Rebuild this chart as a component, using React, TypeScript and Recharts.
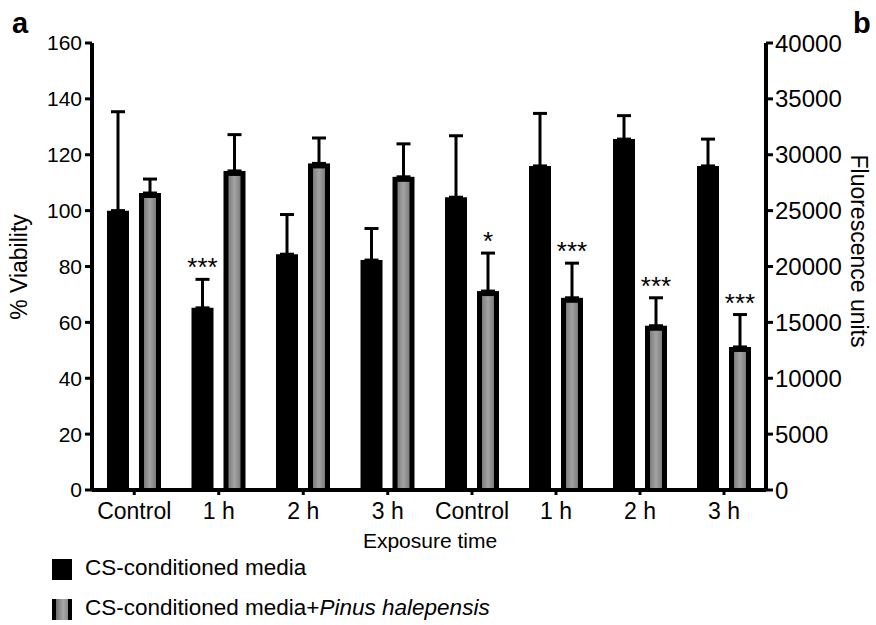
import React from "react";
import { BarChart, Bar, XAxis, YAxis, ErrorBar, LabelList } from "recharts";

const categories = ["Control", "1 h", "2 h", "3 h"];

// panel a: % viability
const viabilityCS = [100, 65.2, 84.4, 82.3];
const viabilityCSErr = [35.4, 10.2, 14.2, 11.3];
const viabilityPH = [106.3, 114.2, 116.9, 112.1];
const viabilityPHErr = [5, 13, 9.1, 11.8];
const viabilityCSSig = ["", "***", "", ""];
const viabilityPHSig = ["", "", "", ""];
const viabilityTicks = [0, 20, 40, 60, 80, 100, 120, 140, 160];

// panel b: fluorescence units
const fluorCS = [26200, 29000, 31400, 29000];
const fluorCSErr = [5500, 4700, 2100, 2400];
const fluorPH = [17800, 17200, 14700, 12800];
const fluorPHErr = [3400, 3100, 2500, 2900];
const fluorCSSig = ["", "", "", ""];
const fluorPHSig = ["*", "***", "***", "***"];
const fluorTicks = [0, 5000, 10000, 15000, 20000, 25000, 30000, 35000, 40000];

const FONT = "'Liberation Sans', Arial, sans-serif";

const buildRows = (cs, csErr, ph, phErr, csSig, phSig) =>
  categories.map((cat, i) => ({
    cat,
    cs: cs[i],
    csErr: [0, csErr[i]],
    ph: ph[i],
    phErr: [0, phErr[i]],
    csSig: csSig[i],
    phSig: phSig[i],
  }));

const rowsA = buildRows(viabilityCS, viabilityCSErr, viabilityPH, viabilityPHErr, viabilityCSSig, viabilityPHSig);
const rowsB = buildRows(fluorCS, fluorCSErr, fluorPH, fluorPHErr, fluorCSSig, fluorPHSig);

// gray bar with a thick black border
const makeGrayBar = (gradId) => (props) => {
  const { x, y, width, height } = props;
  if (!height || height <= 0) return null;
  const b = 5;
  return (
    <g>
      <rect x={x} y={y} width={width} height={height} fill="#000" />
      <rect x={x + b} y={y + b} width={width - 2 * b} height={height - b} fill={`url(#${gradId})`} />
    </g>
  );
};

// asterisks sit just above the error bar cap
const makeSig = (rows, valKey, errKey) => (props) => {
  const { x, y, width, height, index, value } = props;
  if (!value) return null;
  const r = rows[index];
  const top = y - (r[errKey][1] / r[valKey]) * height;
  return (
    <text x={x + width / 2} y={top - 3} textAnchor="middle" fontSize={26} fontFamily={FONT} fill="#000">
      {value}
    </text>
  );
};

const grad = (id) => (
  <defs>
    <linearGradient id={id} x1="0" y1="0" x2="1" y2="0">
      <stop offset="0%" stopColor="#7d7d7d" />
      <stop offset="50%" stopColor="#a3a3a3" />
      <stop offset="100%" stopColor="#7d7d7d" />
    </linearGradient>
  </defs>
);

const xAxisProps = {
  dataKey: "cat",
  height: 50,
  interval: 0,
  tickSize: 5,
  tickMargin: 8,
  tick: { fill: "#000", fontSize: 23, fontFamily: FONT },
  tickLine: { stroke: "#000", strokeWidth: 3 },
  axisLine: { stroke: "#000", strokeWidth: 4 },
};

export default function App() {
  return (
    <div style={{ position: "absolute", left: 0, top: 0, width: 876, height: 625, background: "#fff" }}>
      <div style={{ position: "absolute", left: 0, top: 0 }}>
        <BarChart
          width={430}
          height={540}
          data={rowsA}
          margin={{ top: 43, right: 0, bottom: 0, left: 0 }}
          barSize={22}
          barGap={10}
        >
          {grad("grayA")}
          <XAxis {...xAxisProps} />
          <YAxis
            width={92}
            domain={[0, 160]}
            ticks={viabilityTicks}
            allowDataOverflow
            tickSize={7}
            tickMargin={3}
            tick={{ fill: "#000", fontSize: 21, fontFamily: FONT }}
            tickLine={{ stroke: "#000", strokeWidth: 3 }}
            axisLine={{ stroke: "#000", strokeWidth: 4 }}
          />
          <Bar dataKey="cs" fill="#000" isAnimationActive={false}>
            <ErrorBar dataKey="csErr" width={7} strokeWidth={3} stroke="#000" direction="y" isAnimationActive={false} />
            <LabelList dataKey="csSig" content={makeSig(rowsA, "cs", "csErr")} />
          </Bar>
          <Bar dataKey="ph" fill="#888" shape={makeGrayBar("grayA")} isAnimationActive={false}>
            <ErrorBar dataKey="phErr" width={7} strokeWidth={3} stroke="#000" direction="y" isAnimationActive={false} />
            <LabelList dataKey="phSig" content={makeSig(rowsA, "ph", "phErr")} />
          </Bar>
        </BarChart>
      </div>
      <div style={{ position: "absolute", left: 430, top: 0 }}>
        <BarChart
          width={446}
          height={540}
          data={rowsB}
          margin={{ top: 43, right: 0, bottom: 0, left: 0 }}
          barSize={22}
          barGap={10}
        >
          {grad("grayB")}
          <XAxis {...xAxisProps} />
          <YAxis
            yAxisId="divider"
            orientation="left"
            width={0}
            domain={[0, 40000]}
            tick={false}
            tickLine={false}
            axisLine={{ stroke: "#8a8a8a", strokeWidth: 1.5, strokeDasharray: "1 1" }}
          />
          <YAxis
            yAxisId="fl"
            orientation="right"
            width={110}
            domain={[0, 40000]}
            ticks={fluorTicks}
            allowDataOverflow
            tickSize={7}
            tickMargin={2}
            tick={{ fill: "#000", fontSize: 24, fontFamily: FONT }}
            tickLine={{ stroke: "#000", strokeWidth: 3 }}
            axisLine={{ stroke: "#000", strokeWidth: 4 }}
          />
          <Bar yAxisId="fl" dataKey="cs" fill="#000" isAnimationActive={false}>
            <ErrorBar dataKey="csErr" width={7} strokeWidth={3} stroke="#000" direction="y" isAnimationActive={false} />
            <LabelList dataKey="csSig" content={makeSig(rowsB, "cs", "csErr")} />
          </Bar>
          <Bar yAxisId="fl" dataKey="ph" fill="#888" shape={makeGrayBar("grayB")} isAnimationActive={false}>
            <ErrorBar dataKey="phErr" width={7} strokeWidth={3} stroke="#000" direction="y" isAnimationActive={false} />
            <LabelList dataKey="phSig" content={makeSig(rowsB, "ph", "phErr")} />
          </Bar>
        </BarChart>
      </div>
      <svg
        width={876}
        height={625}
        style={{ position: "absolute", left: 0, top: 0, pointerEvents: "none" }}
        fontFamily={FONT}
      >
        <defs>
          <linearGradient id="legendGray" x1="0" y1="0" x2="1" y2="0">
            <stop offset="0%" stopColor="#6e6e6e" />
            <stop offset="60%" stopColor="#a8a8a8" />
            <stop offset="100%" stopColor="#8a8a8a" />
          </linearGradient>
        </defs>
        <text x={12} y={33} fontSize={29} fontWeight="bold">a</text>
        <text x={853} y={33} fontSize={29} fontWeight="bold">b</text>
        <text x={27} y={267} fontSize={23} textAnchor="middle" transform="rotate(-90 27 267)">
          % Viability
        </text>
        <text x={851} y={251} fontSize={23} textAnchor="middle" transform="rotate(90 851 251)">
          Fluorescence units
        </text>
        <text x={430} y={548} fontSize={21} textAnchor="middle">Exposure time</text>

        <rect x={52} y={559} width={20} height={21} fill="#000" />
        <text x={85} y={575} fontSize={22.5}>CS-conditioned media</text>

        <rect x={52} y={599} width={20} height={21} fill="#000" />
        <rect x={56} y={599} width={12} height={21} fill="url(#legendGray)" />
        <text x={85} y={615} fontSize={22.5}>
          CS-conditioned media+<tspan fontStyle="italic">Pinus halepensis</tspan>
        </text>
      </svg>
    </div>
  );
}
